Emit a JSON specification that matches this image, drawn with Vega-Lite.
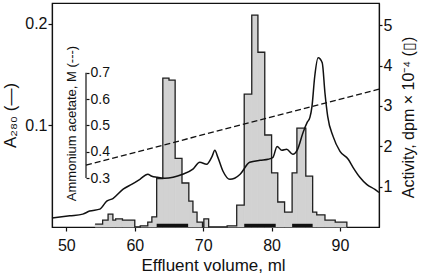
{
  "$schema": "https://vega.github.io/schema/vega-lite/v6.json",
  "width": 327,
  "height": 224,
  "autosize": {"type": "none"},
  "padding": {"left": 52, "top": 3, "right": 55, "bottom": 47},
  "background": "white",
  "config": {
    "view": {"stroke": "#111", "strokeWidth": 1.2},
    "font": "Liberation Sans",
    "axis": {
      "grid": false,
      "labelFont": "Liberation Sans",
      "titleFont": "Liberation Sans",
      "labelFontSize": 16,
      "titleFontSize": 17,
      "titleFontWeight": "normal",
      "labelColor": "#111",
      "titleColor": "#111",
      "tickColor": "#111",
      "domainColor": "#111",
      "domainWidth": 1.2,
      "tickWidth": 1.2,
      "labelFlush": false
    }
  },
  "datasets": {
    "bins": [
      {"start": 54.2, "end": 55.3, "act": 0.07},
      {"start": 55.3, "end": 56.1, "act": 0.17},
      {"start": 56.1, "end": 56.8, "act": 0.32},
      {"start": 56.8, "end": 57.2, "act": 0.17},
      {"start": 57.2, "end": 58.2, "act": 0.2},
      {"start": 58.2, "end": 60.0, "act": 0.17},
      {"start": 60.0, "end": 60.8, "act": 0},
      {"start": 60.8, "end": 61.9, "act": 0.03},
      {"start": 61.9, "end": 62.5, "act": 0.12},
      {"start": 62.5, "end": 63.2, "act": 0.25},
      {"start": 63.2, "end": 64.1, "act": 1.2},
      {"start": 64.1, "end": 65.0, "act": 3.69},
      {"start": 65.0, "end": 65.9, "act": 3.64},
      {"start": 65.9, "end": 66.9, "act": 1.7},
      {"start": 66.9, "end": 67.9, "act": 1.09},
      {"start": 67.9, "end": 68.5, "act": 0.64},
      {"start": 68.5, "end": 69.1, "act": 0.37},
      {"start": 69.1, "end": 69.9, "act": 0.12},
      {"start": 69.9, "end": 70.1, "act": 0},
      {"start": 70.1, "end": 70.8, "act": 0.2},
      {"start": 70.8, "end": 73.5, "act": 0},
      {"start": 73.5, "end": 74.9, "act": 0.03},
      {"start": 74.9, "end": 76.0, "act": 0.54},
      {"start": 76.0, "end": 77.1, "act": 3.29},
      {"start": 77.1, "end": 78.0, "act": 5.25},
      {"start": 78.0, "end": 79.0, "act": 4.33},
      {"start": 79.0, "end": 80.0, "act": 2.28},
      {"start": 80.0, "end": 80.9, "act": 1.34},
      {"start": 80.9, "end": 81.9, "act": 0.62},
      {"start": 81.9, "end": 83.0, "act": 0.37},
      {"start": 83.0, "end": 83.7, "act": 1.34},
      {"start": 83.7, "end": 85.0, "act": 2.45},
      {"start": 85.0, "end": 86.0, "act": 1.26},
      {"start": 86.0, "end": 86.6, "act": 0.37},
      {"start": 86.6, "end": 87.8, "act": 0.3},
      {"start": 87.8, "end": 89.3, "act": 0.17},
      {"start": 89.3, "end": 91.0, "act": 0.12},
      {"start": 91.0, "end": 91.0, "act": 0}
    ],
    "pools": [
      {"start": 63.2, "end": 67.8},
      {"start": 76.0, "end": 80.6},
      {"start": 83.0, "end": 86.0}
    ],
    "a280": [
      {"vol": 47.9, "a": 0.0088}, {"vol": 50.5, "a": 0.011}, {"vol": 52.4, "a": 0.0127},
      {"vol": 53.4, "a": 0.0157}, {"vol": 54.9, "a": 0.0176}, {"vol": 55.9, "a": 0.0255},
      {"vol": 56.8, "a": 0.028}, {"vol": 58.3, "a": 0.0373}, {"vol": 59.6, "a": 0.0422},
      {"vol": 60.75, "a": 0.047}, {"vol": 61.9, "a": 0.052}, {"vol": 62.5, "a": 0.05},
      {"vol": 63.2, "a": 0.049}, {"vol": 64.4, "a": 0.048}, {"vol": 65.6, "a": 0.049},
      {"vol": 67.0, "a": 0.052}, {"vol": 68.5, "a": 0.057}, {"vol": 69.5, "a": 0.0637},
      {"vol": 70.5, "a": 0.0618}, {"vol": 71.3, "a": 0.0696}, {"vol": 71.7, "a": 0.0755},
      {"vol": 72.15, "a": 0.0686}, {"vol": 72.9, "a": 0.0549}, {"vol": 73.9, "a": 0.047},
      {"vol": 74.6, "a": 0.048}, {"vol": 75.4, "a": 0.052}, {"vol": 76.8, "a": 0.0637},
      {"vol": 78.3, "a": 0.0657}, {"vol": 79.5, "a": 0.0667}, {"vol": 80.2, "a": 0.0686},
      {"vol": 80.8, "a": 0.0794}, {"vol": 81.5, "a": 0.0755}, {"vol": 82.2, "a": 0.0765},
      {"vol": 83.1, "a": 0.0716}, {"vol": 83.8, "a": 0.0765}, {"vol": 84.6, "a": 0.0931},
      {"vol": 85.2, "a": 0.103}, {"vol": 85.6, "a": 0.108}, {"vol": 85.9, "a": 0.1186},
      {"vol": 86.3, "a": 0.148}, {"vol": 86.8, "a": 0.1667}, {"vol": 87.4, "a": 0.1618},
      {"vol": 87.8, "a": 0.132}, {"vol": 88.2, "a": 0.109}, {"vol": 89.0, "a": 0.089},
      {"vol": 90.0, "a": 0.0745}, {"vol": 91.2, "a": 0.0667}, {"vol": 91.9, "a": 0.0588},
      {"vol": 92.9, "a": 0.049}, {"vol": 93.9, "a": 0.042}, {"vol": 95.1, "a": 0.037},
      {"vol": 95.7, "a": 0.034}
    ],
    "acetate": [
      {"vol": 52.87, "m": 0.349},
      {"vol": 95.7, "m": 0.638}
    ],
    "acetateAxis": [
      {"vol": 52.87, "lo": 0.3, "hi": 0.7}
    ]
  },
  "layer": [
    {
      "layer": [
        {
          "data": {"name": "bins"},
          "mark": {"type": "rect", "fill": "#d2d2d2", "stroke": "#d2d2d2", "strokeWidth": 0.8},
          "encoding": {
            "x": {
              "field": "start", "type": "quantitative",
              "scale": {"domain": [47.9, 95.7], "nice": false, "zero": false},
              "axis": {
                "title": "Effluent volume, ml",
                "values": [50, 55, 60, 65, 70, 75, 80, 85, 90, 95],
                "labelExpr": "datum.value % 10 === 0 ? datum.label : ''",
                "tickSize": 4,
                "labelPadding": 6,
                "titleX": 161,
                "titleY": 43,
                "titleBaseline": "alphabetic"
              }
            },
            "x2": {"field": "end"},
            "y": {
              "field": "act", "type": "quantitative",
              "scale": {"domain": [0, 5.55], "nice": false},
              "axis": {
                "orient": "right",
                "values": [1, 2, 3, 4, 5],
                "tickSize": 3,
                "labelPadding": 1,
                "title": "Activity, dpm × 10⁻⁴ (▯)",
                "titleFontSize": 16,
                "titleAngle": 270,
                "titleX": 29,
                "titleY": 114,
                "titleAlign": "center",
                "titleBaseline": "middle"
              }
            },
            "y2": {"datum": 0}
          }
        },
        {
          "data": {"name": "bins"},
          "mark": {"type": "line", "interpolate": "step-after", "color": "#222", "strokeWidth": 1.3},
          "encoding": {
            "x": {"field": "start", "type": "quantitative", "title": "Effluent volume, ml"},
            "y": {"field": "act", "type": "quantitative"}
          }
        },
        {
          "data": {"name": "pools"},
          "mark": {"type": "rule", "color": "#111", "strokeWidth": 3.2},
          "encoding": {
            "x": {"field": "start", "type": "quantitative", "title": "Effluent volume, ml"},
            "x2": {"field": "end"},
            "y": {"datum": 0.04, "type": "quantitative"}
          }
        }
      ]
    },
    {
      "data": {"name": "a280"},
      "mark": {"type": "line", "interpolate": "monotone", "color": "#111", "strokeWidth": 1.5},
      "encoding": {
        "x": {"field": "vol", "type": "quantitative", "title": "Effluent volume, ml"},
        "y": {
          "field": "a", "type": "quantitative",
          "scale": {"domain": [0, 0.2206], "nice": false},
          "axis": {
            "orient": "left",
            "values": [0.1, 0.2],
            "format": ".1f",
            "tickSize": 4,
            "labelPadding": 1,
            "title": "A₂₈₀ (—)",
            "titleAngle": 270,
            "titleX": -42,
            "titleY": 112,
            "titleAlign": "center",
            "titleBaseline": "middle"
          }
        }
      }
    },
    {
      "layer": [
        {
          "data": {"name": "acetate"},
          "mark": {"type": "line", "color": "#111", "strokeWidth": 1.3, "strokeDash": [6, 3]},
          "encoding": {
            "x": {"field": "vol", "type": "quantitative", "title": "Effluent volume, ml"},
            "y": {
              "field": "m", "type": "quantitative",
              "scale": {"domain": [0.1137, 0.9654], "nice": false, "zero": false},
              "axis": {
                "orient": "right",
                "offset": -293,
                "domain": false,
                "values": [0.3, 0.4, 0.5, 0.6, 0.7],
                "format": ".1f",
                "tickSize": 3,
                "labelPadding": 1,
                "labelFontSize": 14,
                "title": "Ammonium acetate, M (---)",
                "titleFontSize": 13,
                "titleAngle": 270,
                "titleX": -15,
                "titleY": 120,
                "titleAlign": "center",
                "titleBaseline": "middle"
              }
            }
          }
        },
        {
          "data": {"name": "acetateAxis"},
          "mark": {"type": "rule", "color": "#111", "strokeWidth": 1.2},
          "encoding": {
            "x": {"field": "vol", "type": "quantitative", "title": "Effluent volume, ml"},
            "y": {"field": "lo", "type": "quantitative"},
            "y2": {"field": "hi"}
          }
        }
      ]
    }
  ],
  "resolve": {"scale": {"y": "independent"}}
}
